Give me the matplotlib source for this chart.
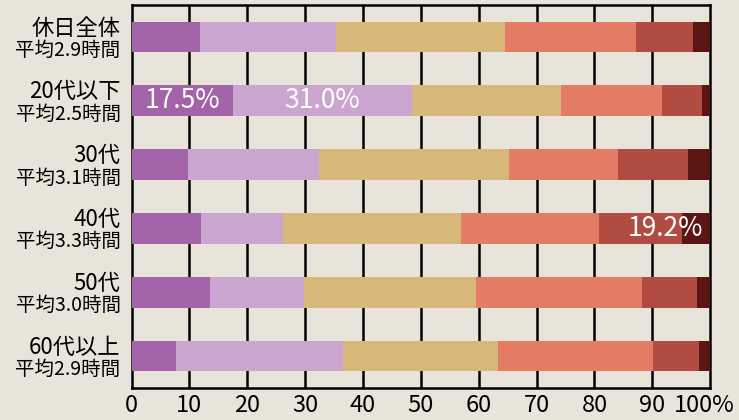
import matplotlib.pyplot as plt
import matplotlib.transforms as mtransforms
import numpy as np

plt.rcParams['font.family'] = ['Noto Sans CJK JP', 'DejaVu Sans']

# 年代別の休日の利用時間の内訳（%）
groups = ['休日全体', '20代以下', '30代', '40代', '50代', '60代以上']
averages = ['平均2.9時間', '平均2.5時間', '平均3.1時間', '平均3.3時間', '平均3.0時間', '平均2.9時間']

seg1 = [11.9, 17.5, 9.7, 12.0, 13.5, 7.6]
seg2 = [23.4, 31.0, 22.7, 14.1, 16.3, 29.0]
seg3 = [29.2, 25.8, 32.9, 30.9, 29.7, 26.7]
seg4 = [22.6, 17.4, 18.8, 23.8, 28.8, 26.9]
seg5 = [10.0, 6.9, 12.1, 14.4, 9.5, 7.9]
seg6 = [2.9, 1.4, 3.8, 4.8, 2.2, 1.9]

segments = [seg1, seg2, seg3, seg4, seg5, seg6]
colors = ['#a263a8', '#c9a5cf', '#d7b878', '#e37b65', '#b24b41', '#5c1515']
bg = '#e8e4da'

fig = plt.figure(figsize=(7.39, 4.2), dpi=100, facecolor=bg)
ax = fig.add_axes([0.178, 0.076, 0.783, 0.912], facecolor=bg)

y = np.arange(len(groups))
left = np.zeros(len(groups))
for vals, c in zip(segments, colors):
    ax.barh(y, vals, left=left, height=0.48, color=c, zorder=3)
    left += np.array(vals)

# 数値ラベル
ax.text(seg1[1] / 2, 1, f'{seg1[1]:.1f}%', color='white', fontsize=19,
        ha='center', va='center', zorder=4)
ax.text(seg1[1] + seg2[1] / 2, 1, f'{seg2[1]:.1f}%', color='white', fontsize=19,
        ha='center', va='center', zorder=4)
ax.text(98.8, 3, f'{seg5[3] + seg6[3]:.1f}%', color='white', fontsize=19,
        ha='right', va='center', zorder=4)

ax.set_xlim(0, 100)
ax.set_ylim(len(groups) - 0.5, -0.5)
ax.set_xticks(range(0, 101, 10))
ax.set_xticklabels([str(v) for v in range(0, 100, 10)] + ['100%'], fontsize=17)
ax.tick_params(axis='x', length=0, pad=4)
ax.set_yticks([])

# 100% のラベルが右端からはみ出さないよう少し左へ
last = ax.get_xticklabels()[-1]
last.set_transform(last.get_transform() +
                   mtransforms.ScaledTranslation(-4 / 72, 0, fig.dpi_scale_trans))

for xv in range(10, 100, 10):
    ax.axvline(xv, color='black', lw=1.8, zorder=1)
for s in ax.spines.values():
    s.set_color('black')
    s.set_linewidth(1.8)

for i, (g, a) in enumerate(zip(groups, averages)):
    ax.text(-1.9, i - 0.14, g, fontsize=16, ha='right', va='center')
    ax.text(-1.9, i + 0.21, a, fontsize=14, ha='right', va='center')

fig.savefig('out.png', dpi=100, facecolor=bg)
